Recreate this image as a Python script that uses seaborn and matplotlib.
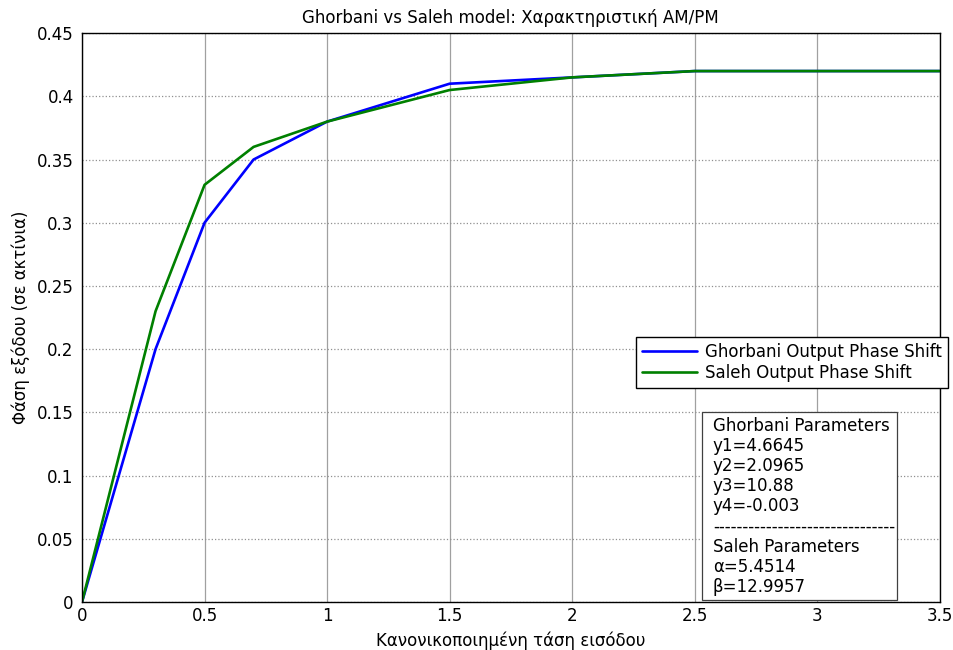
import matplotlib
matplotlib.use("Agg")
import matplotlib.pyplot as plt
from matplotlib.lines import Line2D
from matplotlib.patches import Rectangle
import seaborn as sns
import pandas as pd

x_vals = [0, 0.3, 0.5, 0.7, 1.0, 1.5, 2.0, 2.5, 3.0, 3.5]
ghorbani = [0, 0.20, 0.30, 0.35, 0.38, 0.41, 0.415, 0.42, 0.42, 0.42]
saleh = [0, 0.23, 0.33, 0.36, 0.38, 0.405, 0.415, 0.42, 0.42, 0.42]
series_names = ["Ghorbani Output Phase Shift", "Saleh Output Phase Shift"]
x_ticks = [0, 0.5, 1, 1.5, 2, 2.5, 3, 3.5]
x_tick_labels = ["0", "0.5", "1", "1.5", "2", "2.5", "3", "3.5"]
y_ticks = [0, 0.05, 0.1, 0.15, 0.2, 0.25, 0.3, 0.35, 0.4, 0.45]
y_tick_labels = ["0", "0.05", "0.1", "0.15", "0.2", "0.25", "0.3", "0.35", "0.4", "0.45"]
param_text = ("Ghorbani Parameters\ny1=4.6645\ny2=2.0965\ny3=10.88\ny4=-0.003\n"
              "-------------------------------\nSaleh Parameters\nα=5.4514\nβ=12.9957")

df = pd.DataFrame({
    "x": x_vals * 2,
    "y": ghorbani + saleh,
    "series": [series_names[0]] * len(x_vals) + [series_names[1]] * len(x_vals),
})

sns.set_style("white")
plt.rcParams["font.family"] = ["DejaVu Sans"]
plt.rcParams["text.color"] = "black"
plt.rcParams["axes.labelcolor"] = "black"
FS = 12

fig = plt.figure(figsize=(9.54, 6.5), dpi=100)
ax = fig.add_axes([0.086, 0.074, 0.899, 0.875])
sns.lineplot(data=df, x="x", y="y", hue="series",
             palette={series_names[0]: "#0000ff", series_names[1]: "#008000"},
             linewidth=1.9, ax=ax, legend=False)

ax.set_xlim(0, 3.5)
ax.set_ylim(0, 0.45)
ax.set_xticks(x_ticks)
ax.set_xticklabels(x_tick_labels)
ax.set_yticks(y_ticks)
ax.set_yticklabels(y_tick_labels)
ax.tick_params(axis="y", direction="in", length=4, labelsize=FS, colors="black", pad=6)
ax.tick_params(axis="x", direction="in", length=4, labelsize=FS, colors="black", pad=4)
ax.xaxis.grid(True, color="#a0a0a0", linestyle="-", linewidth=0.9)
ax.yaxis.grid(True, color="#909090", linestyle=":", linewidth=0.9)
ax.set_axisbelow(True)
for s in ax.spines.values():
    s.set_color("black")
    s.set_linewidth(1.0)

ax.set_title("Ghorbani vs Saleh model: Χαρακτηριστική AM/PM", fontsize=FS, pad=7, color="black")
ax.set_xlabel("Κανονικοποιημένη τάση εισόδου", fontsize=FS, labelpad=4, color="black")
ax.set_ylabel("Φάση εξόδου (σε ακτίνια)", fontsize=FS, labelpad=5, color="black")

handles = [Line2D([], [], color="#0000ff", lw=1.9), Line2D([], [], color="#008000", lw=1.9)]
leg = ax.legend(handles, series_names, loc="upper left",
                bbox_to_anchor=(0.6457, 0.4657), borderaxespad=0, fontsize=FS,
                frameon=True, fancybox=False, edgecolor="black", framealpha=1,
                handlelength=3.3, borderpad=0.35, labelspacing=0.2, handletextpad=0.5)
leg.get_frame().set_linewidth(1.0)
for t in leg.get_texts():
    t.set_color("black")

ax.add_patch(Rectangle((0.7226, 0.0035), 0.2274, 0.3305, transform=ax.transAxes,
                       facecolor="white", edgecolor="#404040", linewidth=0.9, zorder=4))
ax.text(0.7354, 0.325, param_text, transform=ax.transAxes, fontsize=FS, color="black",
        va="top", ha="left", linespacing=1.15, zorder=5)

fig.savefig("out.png", dpi=100)
